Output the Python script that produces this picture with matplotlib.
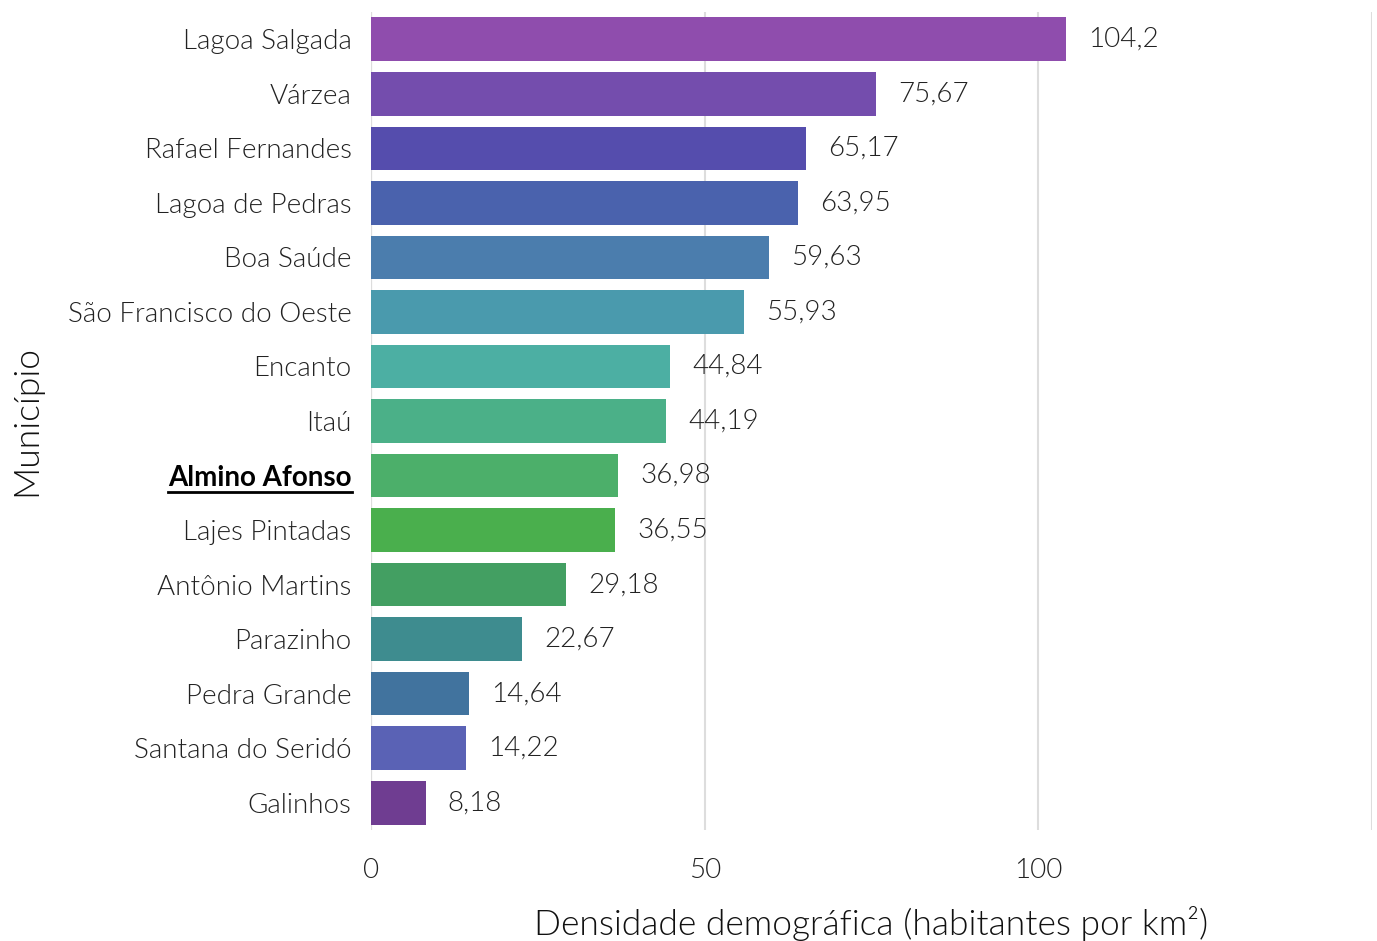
import matplotlib.pyplot as plt
from matplotlib.lines import Line2D

plt.rcParams['font.family'] = ['Lato', 'DejaVu Sans']
plt.rcParams['font.weight'] = 300

municipios = ["Lagoa Salgada", "Várzea", "Rafael Fernandes", "Lagoa de Pedras",
              "Boa Saúde", "São Francisco do Oeste", "Encanto", "Itaú",
              "Almino Afonso", "Lajes Pintadas", "Antônio Martins", "Parazinho",
              "Pedra Grande", "Santana do Seridó", "Galinhos"]
densidade = [104.2, 75.67, 65.17, 63.95, 59.63, 55.93, 44.84, 44.19,
             36.98, 36.55, 29.18, 22.67, 14.64, 14.22, 8.18]
cores = ["#8F4DAD", "#744DAD", "#554DAD", "#4A62AD", "#4B7DAD", "#4A9AAD",
         "#4CAFA3", "#4BB088", "#4CAF6A", "#4AAF4D", "#439F62", "#3E8C8F",
         "#41739E", "#5A62B5", "#6F3D91"]
destaque = "Almino Afonso"
xticks = [0, 50, 100, 150]

fig = plt.figure(figsize=(13.77, 9.41), dpi=100)
ax = fig.add_axes([371 / 1377, 111 / 941, 1001 / 1377, 818 / 941])

pos = list(range(len(municipios)))
ax.barh(pos, densidade, color=cores, height=0.8, zorder=2)

for i, v in enumerate(densidade):
    ax.annotate(str(v).replace('.', ','), (v, i), xytext=(16, 0),
                textcoords='offset points', va='center', ha='left',
                fontsize=20, fontweight=300, color='#222222')

ax.set_ylim(len(municipios) - 0.5, -0.5)
ax.set_xlim(0, 150)
ax.set_yticks(pos)
ax.set_yticklabels(municipios)
ax.set_xticks(xticks)
ax.set_xticklabels(["0", "50", "100", ""])
ax.tick_params(axis='both', length=0, labelsize=20, colors='#222222')
ax.tick_params(axis='y', pad=14)
ax.tick_params(axis='x', pad=20)
for lab in ax.get_yticklabels() + ax.get_xticklabels():
    lab.set_fontweight(300)

ax.grid(axis='x', color='#dddddd', linewidth=1.5, zorder=0)
ax.axvline(0, color='#bbbbbb', linewidth=1.5, zorder=1)
for s in ax.spines.values():
    s.set_visible(False)

ax.set_xlabel("Densidade demográfica (habitantes por km²)", fontsize=25.5,
              fontweight=300, color='#111111', labelpad=17)
ax.set_ylabel("Município", fontsize=25.5, fontweight=300, color='#111111',
              labelpad=18)

# destaque em negrito e sublinhado
lab = ax.get_yticklabels()[municipios.index(destaque)]
lab.set_fontweight('bold')
lab.set_color('black')
fig.canvas.draw()
bb = lab.get_window_extent()
y0 = bb.y0 - 1
fig.add_artist(Line2D([bb.x0 / fig.bbox.width, bb.x1 / fig.bbox.width],
                      [y0 / fig.bbox.height, y0 / fig.bbox.height],
                      color='black', linewidth=2, transform=fig.transFigure))

fig.savefig("out.png", dpi=100)
